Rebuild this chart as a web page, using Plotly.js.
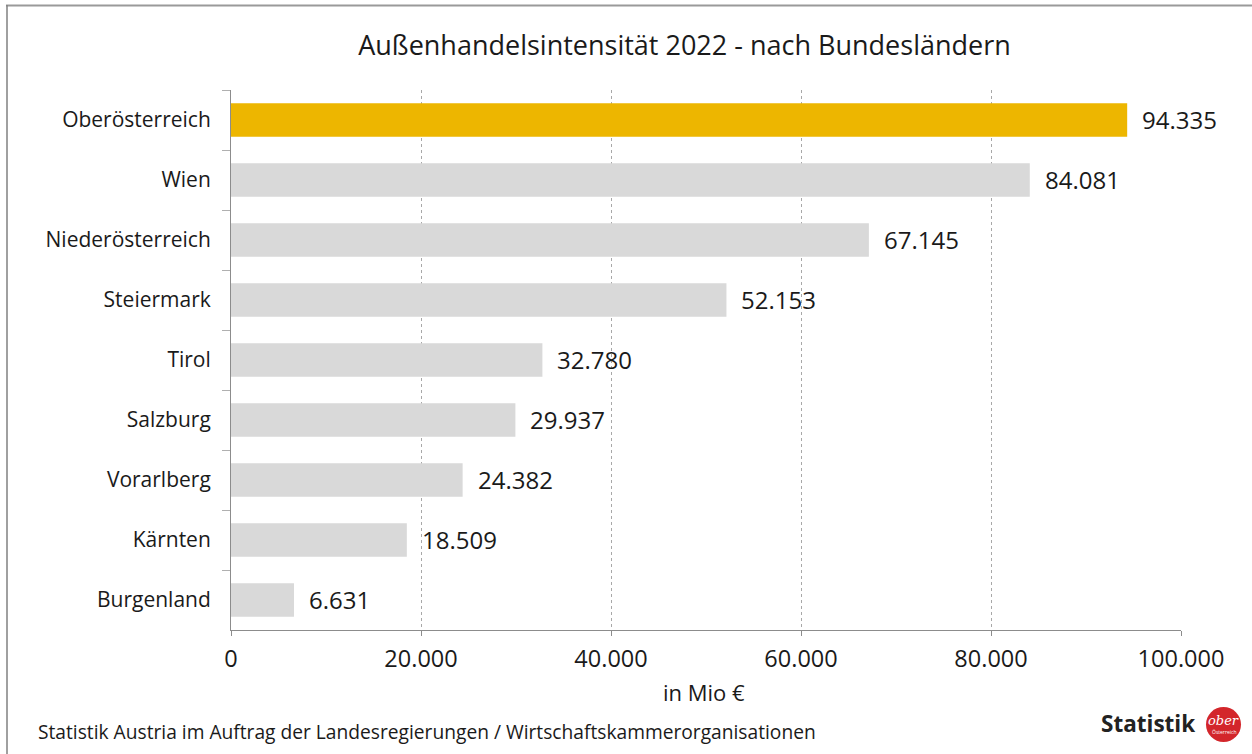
<!DOCTYPE html>
<html>
<head>
<meta charset="utf-8">
<script src="https://cdn.plot.ly/plotly-3.0.1.min.js"></script>
<style>
html,body{margin:0;padding:0;background:#fff;}
#chart{width:1252px;height:754px;}
</style>
</head>
<body>
<div id="chart"></div>
<script>
const categories = ["Oberösterreich","Wien","Niederösterreich","Steiermark","Tirol","Salzburg","Vorarlberg","Kärnten","Burgenland"];
const values = [94335, 84081, 67145, 52153, 32780, 29937, 24382, 18509, 6631];
const highlight = "Oberösterreich";
const xTicks = [0, 20000, 40000, 60000, 80000, 100000];

const FONT = "Open Sans, DejaVu Sans, sans-serif";
const colors = categories.map(c => c === highlight ? "#EDB600" : "#D9D9D9");

// pixel helpers for decoration placement (plot area: x 231..1181, y 90..630)
const px = x => (x - 231) / 950;
const py = y => (630 - y) / 540;

const trace = {
  type: "bar",
  orientation: "h",
  y: categories,
  x: values,
  marker: {color: colors, line: {width: 0}},
  width: 0.56,
  hoverinfo: "skip"
};

const fmt = v => v.toLocaleString("de-DE");
const annotations = categories.map((c, i) => ({
  x: values[i], y: c, xref: "x", yref: "y",
  text: fmt(values[i]), showarrow: false,
  xanchor: "left", xshift: 13, yshift: 1,
  font: {family: FONT, size: 24, color: "#1a1a1a"}
}));

annotations.push({
  xref: "paper", yref: "paper", x: px(36), y: py(731),
  xanchor: "left", yanchor: "middle",
  text: "Statistik Austria im Auftrag der Landesregierungen / Wirtschaftskammerorganisationen",
  showarrow: false, font: {family: FONT, size: 19.2, color: "#1a1a1a"}
});
annotations.push({
  xref: "paper", yref: "paper", x: px(1197), y: py(723),
  xanchor: "right", yanchor: "middle",
  text: "<b>Statistik</b>", showarrow: false,
  font: {family: FONT, size: 22.5, color: "#222"}
});
annotations.push({
  xref: "paper", yref: "paper", x: px(1223.5), y: py(720),
  xanchor: "center", yanchor: "middle",
  text: "<i>ober</i>", showarrow: false,
  font: {family: "DejaVu Serif, serif", size: 13, color: "#fff"}
});
annotations.push({
  xref: "paper", yref: "paper", x: px(1223.5), y: py(732),
  xanchor: "center", yanchor: "middle",
  text: "Österreich", showarrow: false,
  font: {family: FONT, size: 5, color: "#fff"}
});
annotations.push({
  xref: "paper", yref: "paper", x: px(704), y: py(692),
  xanchor: "center", yanchor: "middle",
  text: "in Mio €", showarrow: false,
  font: {family: FONT, size: 22, color: "#1a1a1a"}
});

const layout = {
  width: 1252, height: 754,
  margin: {l: 231, r: 71, t: 90, b: 124},
  paper_bgcolor: "#fff", plot_bgcolor: "#fff",
  separators: ",.",
  showlegend: false,
  title: {
    text: "Außenhandelsintensität 2022 - nach Bundesländern",
    x: 684.5/1252, xref: "container", xanchor: "center",
    y: 1 - 46/754, yref: "container", yanchor: "middle",
    font: {family: FONT, size: 27, color: "#1a1a1a"}
  },
  xaxis: {
    range: [0, 100000],
    tickvals: xTicks,
    tickformat: ",d",
    showgrid: true, gridcolor: "#a8a8a8", griddash: "3px,3px", gridwidth: 1,
    zeroline: false,
    showline: true, linecolor: "#8c8c8c", linewidth: 1,
    ticks: "outside", ticklen: 5, tickcolor: "#8c8c8c",
    ticklabelstandoff: 3,
    tickfont: {family: FONT, size: 23.5, color: "#1a1a1a"},
    fixedrange: true
  },
  yaxis: {
    autorange: "reversed",
    type: "category",
    showline: true, linecolor: "#8c8c8c", linewidth: 1,
    ticks: "outside", tickson: "boundaries", ticklen: 8, tickcolor: "#b0b0b0",
    showgrid: false,
    tickfont: {family: FONT, size: 21, color: "#1a1a1a"},
    ticklabelstandoff: 15,
    fixedrange: true
  },
  bargap: 0.44,
  annotations: annotations,
  shapes: [
    {type: "line", xref: "paper", yref: "paper", x0: px(6), x1: px(1260), y0: py(5.5), y1: py(5.5),
     line: {color: "#9a9a9a", width: 2}},
    {type: "line", xref: "paper", yref: "paper", x0: px(7), x1: px(7), y0: py(5), y1: py(760),
     line: {color: "#808080", width: 1.5}},
    {type: "circle", xref: "paper", yref: "paper",
     x0: px(1206), x1: px(1241), y0: py(742), y1: py(707),
     fillcolor: "#D3262B", line: {width: 0}}
  ]
};

Plotly.newPlot("chart", [trace], layout, {displayModeBar: false, staticPlot: true});
</script>
</body>
</html>
